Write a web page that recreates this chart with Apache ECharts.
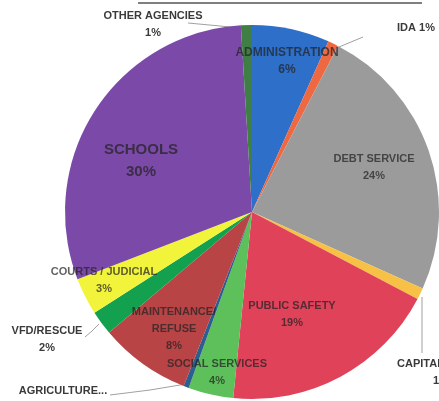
<!DOCTYPE html>
<html>
<head>
<meta charset="utf-8">
<script src="https://cdn.jsdelivr.net/npm/echarts@6/dist/echarts.min.js"></script>
<style>html,body{margin:0;padding:0;background:#fff;}#c{width:439px;height:401px;}</style>
</head>
<body>
<div id="c"></div>
<script>
var categories = ['ADMINISTRATION','IDA','DEBT SERVICE','CAPITAL','PUBLIC SAFETY','SOCIAL SERVICES','AGRICULTURE...','MAINTENANCE/\nREFUSE','VFD/RESCUE','COURTS / JUDICIAL','SCHOOLS','OTHER AGENCIES'];
var values = [6.7, 0.9, 24.1, 1.0, 18.9, 3.9, 0.45, 7.9, 2.1, 3.2, 29.9, 0.95];
var percentLabels = ['6%','1%','24%','1%','19%','4%','','8%','2%','3%','30%','1%'];

var colors = ['#2e6fc9','#ee6842','#9b9b9b','#f6c144','#e0425a','#5ec05b','#2a5f90','#b84446','#13a04f','#f2f43c','#7b49a7','#3f7f45'];
var insideSet = [true,false,true,false,true,true,false,true,false,true,true,false];
var labelPos = [[287,61],[416,28],[374,167],[397,372],[292,314],[217,372],[63,391],[174,329],[47,339],[104,280],[141,161],[153,24]];
var labelLines = [null,[[363,37],[351,42],[339,47]],null,[[422,353],[422,325],[422,297]],null,null,[[110,395],[150,390],[186,384]],null,[[85,337],[92,331],[99,324]],null,null,[[188,23],[220,26],[248,29]]];

var chart = echarts.init(document.getElementById('c'));
var data = categories.map(function (name, i) {
  var item = { name: name, value: values[i], itemStyle: { color: colors[i] } };
  var lbl = {};
  if (insideSet[i]) {
    lbl.color = 'rgba(35,35,35,0.72)';
  } else {
    lbl.color = '#3a3a3a';
  }
  if (i === 0) { lbl.fontSize = 12; }
  if (i === 10) { lbl.fontSize = 15; lbl.lineHeight = 22; }
  item.label = lbl;
  item.labelLine = { show: !!labelLines[i] };
  return item;
});

chart.setOption({
  animation: false,
  graphic: [{
    type: 'line',
    shape: { x1: 138, y1: 3, x2: 422, y2: 3 },
    style: { stroke: '#555', lineWidth: 1.5 }
  }],
  series: [{
    type: 'pie',
    center: [252, 212],
    radius: 187,
    startAngle: 90,
    clockwise: true,
    avoidLabelOverlap: false,
    data: data,
    label: {
      show: true,
      position: 'outside',
      fontFamily: 'Liberation Sans, Arial, sans-serif',
      fontWeight: 'bold',
      fontSize: 11,
      lineHeight: 17,
      align: 'center',
      verticalAlign: 'middle',
      formatter: function (p) {
        var i = p.dataIndex;
        if (i === 1) return categories[i] + ' ' + percentLabels[i];
        if (i === 6) return categories[i];
        if (i === 3) return categories[i] + '\n{p|' + percentLabels[i] + '}';
        return categories[i] + '\n' + percentLabels[i];
      },
      rich: {
        p: { fontFamily: 'Liberation Sans, Arial, sans-serif', fontWeight: 'bold', fontSize: 11, color: '#3a3a3a', padding: [0, 0, 0, 36] }
      }
    },
    labelLine: {
      show: true,
      lineStyle: { color: '#a0a0a0', width: 1 }
    },
    labelLayout: function (params) {
      var i = params.dataIndex;
      var r = {
        x: labelPos[i][0],
        y: labelPos[i][1],
        align: i === 3 ? 'left' : 'center',
        verticalAlign: 'middle'
      };
      if (labelLines[i]) r.labelLinePoints = labelLines[i];
      return r;
    }
  }]
});
</script>
</body>
</html>
